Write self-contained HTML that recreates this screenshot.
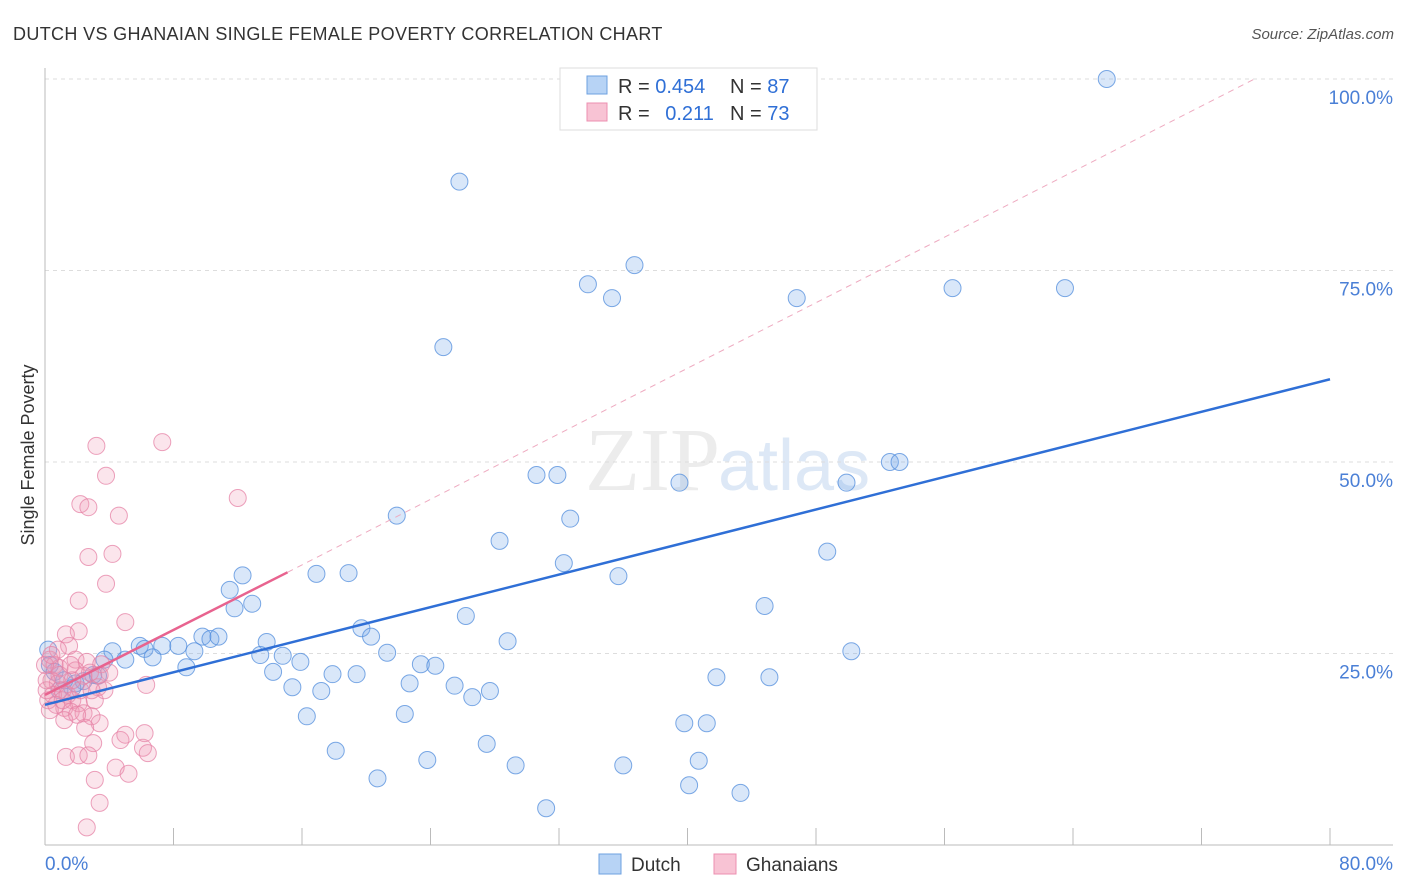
<!DOCTYPE html>
<html><head><meta charset="utf-8"><style>
body{margin:0;background:#fff;font-family:"Liberation Sans",sans-serif;}
svg{display:block}
</style></head><body>
<svg id="chart" width="1406" height="892">
<text x="13" y="40" font-size="18" fill="#333" letter-spacing="0.35">DUTCH VS GHANAIAN SINGLE FEMALE POVERTY CORRELATION CHART</text>
<text x="1394" y="39" font-size="15" fill="#555" font-style="italic" text-anchor="end">Source: ZipAtlas.com</text>
<text x="720" y="490" font-size="90" fill="#ececec" text-anchor="end" font-family="Liberation Serif">ZIP</text>
<text x="718" y="490" font-size="72" fill="#dde8f6">atlas</text>
<text transform="translate(34,455) rotate(-90)" font-size="18" fill="#333" text-anchor="middle">Single Female Poverty</text>
<g id="grid"></g><g id="axes"></g><g id="pts"></g><g id="lines"></g>
<g>
<rect x="560" y="68" width="257" height="62" fill="#fff" stroke="#ddd"/>
<rect x="587" y="76" width="20" height="18" fill="#b7d3f5" stroke="#6ea0e0"/>
<rect x="587" y="103" width="20" height="18" fill="#f8c3d4" stroke="#ec8fb0"/>
<text x="618" y="93" font-size="20" fill="#333">R = <tspan fill="#2f6fd6">0.454</tspan></text>
<text x="730" y="93" font-size="20" fill="#333">N = <tspan fill="#2f6fd6">87</tspan></text>
<text x="618" y="120" font-size="20" fill="#333">R = <tspan fill="#2f6fd6" dx="10">0.211</tspan></text>
<text x="730" y="120" font-size="20" fill="#333">N = <tspan fill="#2f6fd6">73</tspan></text>
</g>
<g>
<rect x="599" y="854" width="22" height="20" fill="#b7d3f5" stroke="#6ea0e0"/>
<text x="631" y="871" font-size="19" fill="#333">Dutch</text>
<rect x="714" y="854" width="22" height="20" fill="#f8c3d4" stroke="#ec8fb0"/>
<text x="746" y="871" font-size="19" fill="#333">Ghanaians</text>
</g>
<text x="45" y="870" font-size="19" fill="#4a7fd6">0.0%</text>
<text x="1393" y="870" font-size="19" fill="#4a7fd6" text-anchor="end">80.0%</text>
</svg>
<script>
const yTicks=[25,50,75,100];
const xTickVals=[8,16,24,32,40,48,56,64,72,80];
const dutchX=[66.1,25.8,36.7,33.8,35.3,46.8,56.5,63.5,24.8,30.6,31.9,39.5,49.9,52.6,53.2,21.9,32.7,28.3,48.7,32.3,35.7,12.3,16.9,18.9,11.5,12.9,11.8,44.8,26.2,19.7,20.3,28.8,13.8,50.2,21.3,5.9,6.2,7.3,8.3,9.8,10.3,10.8,9.3,4.2,3.7,5.0,6.7,13.4,14.8,15.9,23.4,24.3,8.8,14.2,17.9,19.4,41.8,45.1,3.0,2.4,3.3,22.7,25.5,15.4,17.2,27.7,26.6,1.9,1.7,22.4,16.3,39.8,41.2,27.5,18.1,40.7,23.8,29.3,36.0,20.7,40.1,43.3,31.2,0.2,0.3,0.6,0.9,1.2];
const dutchY=[100.0,86.6,75.7,73.2,71.4,71.4,72.7,72.7,65.0,48.3,48.3,47.3,47.3,50.0,50.0,43.0,42.6,39.7,38.3,36.8,35.1,35.2,35.4,35.5,33.3,31.5,30.9,31.2,29.9,28.3,27.2,26.6,26.5,25.3,25.1,26.0,25.6,26.0,26.0,27.2,26.9,27.2,25.3,25.3,24.2,24.2,24.5,24.8,24.7,23.9,23.6,23.4,23.2,22.6,22.3,22.3,21.9,21.9,22.2,21.4,22.1,21.1,20.8,20.6,20.1,20.1,19.3,21.1,20.5,17.1,16.8,15.9,15.9,13.2,12.3,11.0,11.1,10.4,10.4,8.7,7.8,6.8,4.8,25.5,23.5,22.6,20.2,21.5];
const ghX=[3.2,7.3,3.8,12.0,2.2,2.7,4.6,2.7,4.2,3.8,2.1,5.0,2.1,1.3,1.5,1.9,2.6,3.5,2.4,4.0,2.8,3.3,0.3,0.6,0.9,0.4,0.8,1.1,0.2,0.5,1.4,1.7,6.3,2.1,1.2,1.6,2.4,2.9,3.4,2.5,3.0,4.7,5.0,6.1,6.2,6.4,1.3,2.1,2.7,4.4,5.2,3.1,3.4,2.6,0,0.1,0.3,0.7,1.2,1.9,2.2,3.1,3.7,0.9,1.7,3.4,1.6,0.8,0.1,0.4,1.1,2.9,2.0];
const ghY=[52.1,52.6,48.2,45.3,44.5,44.1,43.0,37.6,38.0,34.1,31.9,29.1,27.9,27.5,26.0,24.2,23.9,23.6,22.1,22.5,22.5,20.6,24.2,23.5,23.1,21.5,21.1,20.2,18.9,19.6,19.6,18.9,20.9,18.5,17.9,17.4,17.2,16.8,15.9,15.3,13.3,13.7,14.4,12.7,14.6,12.0,11.5,11.7,11.7,10.1,9.3,8.5,5.5,2.3,23.5,20.2,17.6,18.3,16.3,22.8,20.2,18.9,20.2,22.2,21.5,22.2,23.5,25.5,21.5,24.8,18.9,20.2,17.0];
const dutchTrend=[0,18.3,80,60.8];
const ghTrend=[0,19.6,15.1,35.6];
const ghDash=[15.1,35.6,75.3,100];
const X=v=>45+v/80*1285, Y=v=>845-v*7.66;
const NS='http://www.w3.org/2000/svg';
function mk(tag,attrs,parent){const e=document.createElementNS(NS,tag);for(const k in attrs)e.setAttribute(k,attrs[k]);document.getElementById(parent).appendChild(e);return e;}
yTicks.forEach(t=>{
 const l=mk('line',{x1:45,x2:1393,y1:Y(t),y2:Y(t),stroke:'#ddd','stroke-dasharray':'4,4'},'grid');
 
 
 const tx=mk('text',{x:1393,y:Y(t)+25,'font-size':19,fill:'#4a7fd6','text-anchor':'end'},'grid');
 tx.textContent=t.toFixed(1)+'%';
 
 
});
const ax=mk('line',{x1:45,x2:1393,y1:845,y2:845,stroke:'#bbb'},'axes');


const ay=mk('line',{x1:45,x2:45,y1:68,y2:845,stroke:'#bbb'},'axes');


xTickVals.forEach(t=>{
 const l=mk('line',{x1:X(t),x2:X(t),y1:828,y2:845,stroke:'#bbb'},'axes');
 
 
});
dutchX.forEach((v,i)=>{
 const c=mk('circle',{cx:X(v),cy:Y(dutchY[i]),r:8.5,fill:'rgba(120,170,235,0.28)',stroke:'rgba(80,140,220,0.75)','stroke-width':1},'pts');
 
 
});
ghX.forEach((v,i)=>{
 const c=mk('circle',{cx:X(v),cy:Y(ghY[i]),r:8.5,fill:'rgba(240,150,180,0.25)',stroke:'rgba(230,130,165,0.75)','stroke-width':1},'pts');
 
 
});
const d1=mk('line',{x1:X(dutchTrend[0]),y1:Y(dutchTrend[1]),x2:X(dutchTrend[2]),y2:Y(dutchTrend[3]),stroke:'#2f6fd6','stroke-width':2.5},'lines');


const g1=mk('line',{x1:X(ghTrend[0]),y1:Y(ghTrend[1]),x2:X(ghTrend[2]),y2:Y(ghTrend[3]),stroke:'#e8638f','stroke-width':2.5},'lines');


const g2=mk('line',{x1:X(ghDash[0]),y1:Y(ghDash[1]),x2:X(ghDash[2]),y2:Y(ghDash[3]),stroke:'#eeaac0','stroke-width':1,'stroke-dasharray':'6,5'},'lines');


</script>
</body></html>
